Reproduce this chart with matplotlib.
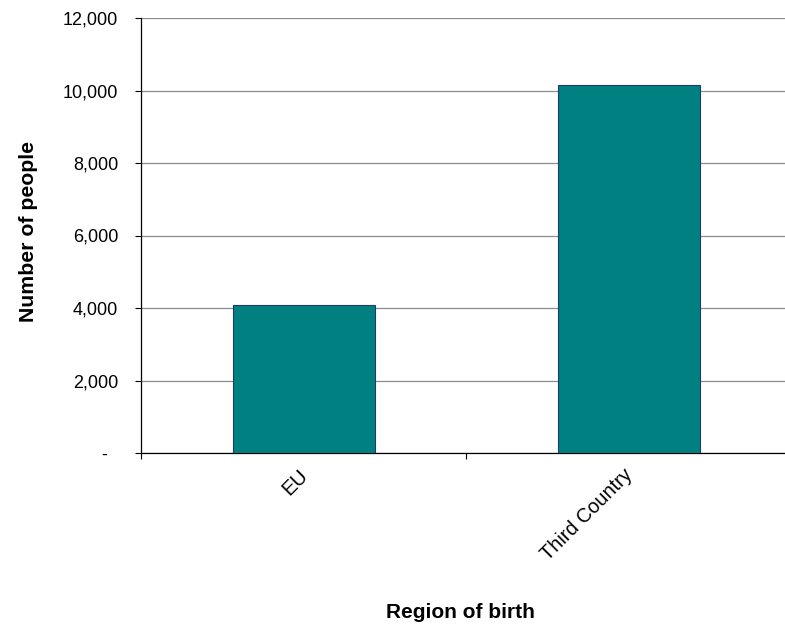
import matplotlib
matplotlib.use("Agg")
import matplotlib.pyplot as plt
from matplotlib.ticker import FuncFormatter, FixedLocator

# data
regions = ["EU", "Third Country"]
people = [4090, 10140]
y_ticks = [0, 2000, 4000, 6000, 8000, 10000, 12000]

plt.rcParams['font.family'] = ['Liberation Sans', 'DejaVu Sans']

fig = plt.figure(figsize=(7.85, 6.27), dpi=100)
ax = fig.add_axes([141 / 785, 1 - 453 / 627, 1 - 141 / 785, (453 - 18) / 627])

x = list(range(len(regions)))
ax.bar(x, people, width=0.436, color='#008080', edgecolor='#1f3a6e',
       linewidth=0.8, zorder=3)

ax.set_xlim(-0.5, 1.48)
ax.set_ylim(0, 12000)

ax.yaxis.set_major_locator(FixedLocator(y_ticks))
ax.yaxis.set_major_formatter(FuncFormatter(lambda v, p: '-  ' if v == 0 else f'{int(v):,}'))
ax.grid(axis='y', color='#8c8c8c', linewidth=0.9, zorder=0)

# category boundaries as major ticks, labels on minor ticks
# (nudged a little left so the rotated text ends where excel puts it)
ax.xaxis.set_major_locator(FixedLocator([-0.5, 0.5, 1.5]))
ax.xaxis.set_major_formatter(FuncFormatter(lambda v, p: ''))
ax.xaxis.set_minor_locator(FixedLocator([i - 0.018 for i in x]))
ax.set_xticklabels(regions, minor=True, rotation=45, ha='right',
                   rotation_mode='anchor', fontsize=14.3)
ax.tick_params(axis='x', which='minor', length=0, pad=9)
ax.tick_params(axis='x', which='major', length=4.3, direction='out', width=0.8)
ax.tick_params(axis='y', length=4.3, direction='out', width=0.8, labelsize=13, pad=12)

for s in ['top', 'right']:
    ax.spines[s].set_visible(False)
for s in ['left', 'bottom']:
    ax.spines[s].set_color('black')
    ax.spines[s].set_linewidth(0.9)

fig.text(460 / 785, 1 - 613 / 627, 'Region of birth', ha='center', va='center',
         fontsize=15, fontweight='bold')
fig.text(28.5 / 785, 1 - 231 / 627, 'Number of people', ha='center', va='center',
         rotation=90, fontsize=15.3, fontweight='bold')

plt.savefig('out.png', dpi=100)
plt.close('all')
